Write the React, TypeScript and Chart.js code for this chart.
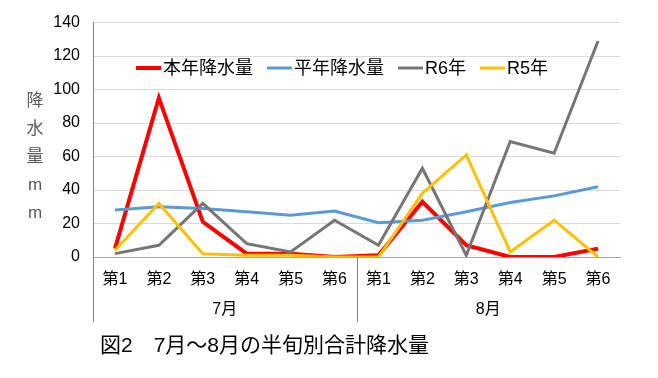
import React, { useEffect, useRef } from "react";
import { Chart, registerables } from "chart.js";
Chart.register(...registerables);

const categories = ["第1", "第2", "第3", "第4", "第5", "第6", "第1", "第2", "第3", "第4", "第5", "第6"];
const months = ["7月", "8月"];
const thisYear = [5, 95, 21, 2, 2, 0, 1, 33, 7, 0, 0, 5];
const normalYear = [28, 30, 29, 27, 25, 27.5, 20.5, 22, 27, 32.5, 36.5, 42];
const r6 = [2, 7, 32, 8, 3, 22, 7, 53, 1, 69, 62, 129];
const r5 = [4, 32, 2, 1, 1, 0, 0, 38, 61, 3, 22, 0];
const seriesNames = ["本年降水量", "平年降水量", "R6年", "R5年"];
const yTitleChars = ["降", "水", "量", "m", "m"];
const caption = "図2　7月～8月の半旬別合計降水量";
const yMin = 0;
const yMax = 140;
const yStep = 20;

const FONT = "'Liberation Sans', 'Noto Sans CJK JP', sans-serif";
const COLORS = ["#FF0000", "#5B9BD5", "#767676", "#FFC000"];
const WIDTHS = [4, 3, 3, 3];

const extras = {
  id: "extras",
  afterDraw(chart: any) {
    const ctx = chart.ctx;
    const area = chart.chartArea;
    const xs = chart.scales.x;
    ctx.save();
    // separators
    ctx.strokeStyle = "#808080";
    ctx.lineWidth = 1;
    const sepX = Math.round((xs.getPixelForValue(5) + xs.getPixelForValue(6)) / 2) + 0.5;
    const leftX = Math.round(area.left) + 0.5;
    ctx.beginPath();
    ctx.moveTo(leftX, area.bottom);
    ctx.lineTo(leftX, 322);
    ctx.moveTo(sepX, area.bottom);
    ctx.lineTo(sepX, 322);
    ctx.stroke();
    // month labels
    ctx.fillStyle = "#000";
    ctx.font = `16px ${FONT}`;
    ctx.textAlign = "center";
    ctx.textBaseline = "middle";
    months.forEach((m, i) => {
      const cx = (xs.getPixelForValue(i * 6) + xs.getPixelForValue(i * 6 + 5)) / 2;
      ctx.fillText(m, cx, 310);
    });
    // y title
    ctx.fillStyle = "#595959";
    ctx.font = `17px ${FONT}`;
    yTitleChars.forEach((c, i) => {
      ctx.fillText(c, 35, 101 + i * 28);
    });
    // legend
    ctx.font = `18px ${FONT}`;
    ctx.textAlign = "left";
    let x = 136;
    const ly = 68;
    seriesNames.forEach((name, i) => {
      ctx.strokeStyle = COLORS[i];
      ctx.lineWidth = WIDTHS[i];
      ctx.beginPath();
      ctx.moveTo(x, ly);
      ctx.lineTo(x + 25, ly);
      ctx.stroke();
      ctx.fillStyle = "#000";
      ctx.fillText(name, x + 27, ly + 1);
      x += 27 + ctx.measureText(name).width + 14;
    });
    // caption
    ctx.font = `21px ${FONT}`;
    ctx.fillStyle = "#000";
    ctx.fillText(caption, 100, 346);
    ctx.restore();
  },
};

export default function App() {
  const ref = useRef<HTMLCanvasElement>(null);
  useEffect(() => {
    const data = [thisYear, normalYear, r6, r5];
    const chart = new Chart(ref.current!, {
      type: "line",
      data: {
        labels: categories,
        datasets: data.map((d, i) => ({
          label: seriesNames[i],
          data: d,
          borderColor: COLORS[i],
          backgroundColor: COLORS[i],
          borderWidth: WIDTHS[i],
          pointRadius: 0,
          tension: 0,
          order: 4 - i,
        })),
      },
      options: {
        responsive: false,
        animation: false,
        layout: { padding: { top: 22, right: 38, left: 0, bottom: 0 } },
        plugins: { legend: { display: false }, tooltip: { enabled: false } },
        scales: {
          x: {
            offset: true,
            grid: { display: false, drawTicks: false },
            border: { color: "#A6A6A6", width: 1 },
            ticks: { color: "#000", font: { size: 16, family: FONT }, padding: 13, maxRotation: 0, autoSkip: false },
            afterFit: (s: any) => { s.height = 121; },
          },
          y: {
            min: yMin,
            max: yMax,
            grid: { color: "#D9D9D9", drawTicks: false },
            border: { color: "#808080", width: 1 },
            ticks: { stepSize: yStep, color: "#000", font: { size: 16, family: FONT }, padding: 13 },
            afterFit: (s: any) => { s.width = 93; },
          },
        },
      },
      plugins: [extras],
    });
    return () => chart.destroy();
  }, []);
  return (
    <div style={{ position: "absolute", left: 0, top: 0, width: 658, height: 378, background: "#fff" }}>
      <canvas ref={ref} width={658} height={378} />
    </div>
  );
}
